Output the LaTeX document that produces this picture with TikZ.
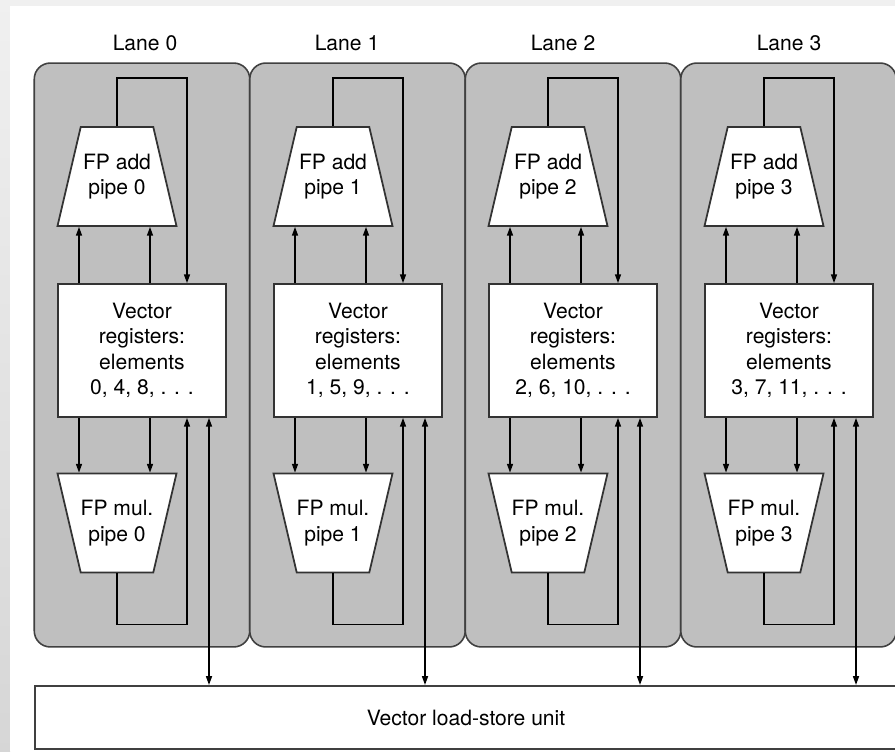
\documentclass[tikz,border=0pt]{standalone}
\usepackage{fontspec}
\setmainfont{TeX Gyre Heros}
\usetikzlibrary{shapes.geometric,arrows.meta}

\newcommand{\pipetext}[2]{\parbox[c][1.98cm][c]{1.44cm}{\centering\makebox[0pt]{#1}\\\makebox[0pt]{#2}}}

\tikzset{
  lanebox/.style={draw=black!75, fill=gray!50, line width=0.9pt, rounded corners=0.32cm,
    minimum width=4.31cm, minimum height=11.68cm},
  regbox/.style={draw=black!80, fill=white, line width=1pt, align=center,
    minimum width=3.36cm, minimum height=2.66cm},
  addpipe/.style={draw=black!80, fill=white, line width=1pt, inner sep=0pt,
    trapezium, trapezium angle=76.8, trapezium stretches body=true,
    minimum width=2.38cm, minimum height=1.98cm},
  mulpipe/.style={addpipe, trapezium angle=103.2},
  arr/.style={line width=0.85pt, -{Triangle[length=5pt,width=3.4pt]}},
  arrboth/.style={line width=0.85pt, {Triangle[length=5pt,width=3.4pt]}-{Triangle[length=5pt,width=3.4pt]}},
  every node/.append style={font=\fontsize{12}{14.5}\selectfont}
}

\begin{document}
\begin{tikzpicture}[x=0.02cm, y=-0.02cm]
  \useasboundingbox (0,0) rectangle (895,751);
  \fill [gray!12] (0,0) rectangle (895,751);
  \shade [top color=gray!12, bottom color=gray!32] (0,6) rectangle (10,751);
  \fill [white] (10,6) rectangle (895,751);

  % lanes
  \node [lanebox] (lane0) at (142,355) {};
  \node [lanebox] (lane1) at (357.5,355) {};
  \node [lanebox] (lane2) at (573,355) {};
  \node [lanebox] (lane3) at (788.5,355) {};
  \node (lab0) at (145,43) {Lane 0};
  \node (lab1) at (347,43) {Lane 1};
  \node (lab2) at (563,43) {Lane 2};
  \node (lab3) at (789,43) {Lane 3};
  \node [draw=black!75, line width=1.2pt, fill=white, minimum width=17.24cm, minimum height=1.26cm] (lsu) at (466,717.5) {Vector load-store unit};

  % lane 0
  \node [addpipe] (add0) at (117,176.5) {\pipetext{FP add}{pipe 0}};
  \node [regbox] (reg0) at (142,350.5) {Vector\\registers:\\elements\\0, 4, 8, . . .};
  \node [mulpipe] (mul0) at (117,523) {\pipetext{FP mul.}{pipe 0}};
  \draw [arr] (add0.north) -- ++(0,-48) -| (reg0.north -| 187,0);
  \draw [arr] (reg0.north -| 79,0) -- (add0.south -| 79,0);
  \draw [arr] (reg0.north -| 150,0) -- (add0.south -| 150,0);
  \draw [arr] (reg0.south -| 79,0) -- (mul0.north -| 79,0);
  \draw [arr] (reg0.south -| 150,0) -- (mul0.north -| 150,0);
  \draw [arr] (mul0.south) -- ++(0,51) -| (reg0.south -| 187,0);
  \draw [arrboth] (reg0.south -| 209,0) -- (lsu.north -| 209,0);

  % lane 1
  \node [addpipe] (add1) at (333,176.5) {\pipetext{FP add}{pipe 1}};
  \node [regbox] (reg1) at (358,350.5) {Vector\\registers:\\elements\\1, 5, 9, . . .};
  \node [mulpipe] (mul1) at (333,523) {\pipetext{FP mul.}{pipe 1}};
  \draw [arr] (add1.north) -- ++(0,-48) -| (reg1.north -| 403,0);
  \draw [arr] (reg1.north -| 295,0) -- (add1.south -| 295,0);
  \draw [arr] (reg1.north -| 366,0) -- (add1.south -| 366,0);
  \draw [arr] (reg1.south -| 295,0) -- (mul1.north -| 295,0);
  \draw [arr] (reg1.south -| 366,0) -- (mul1.north -| 366,0);
  \draw [arr] (mul1.south) -- ++(0,51) -| (reg1.south -| 403,0);
  \draw [arrboth] (reg1.south -| 425,0) -- (lsu.north -| 425,0);

  % lane 2
  \node [addpipe] (add2) at (548,176.5) {\pipetext{FP add}{pipe 2}};
  \node [regbox] (reg2) at (573,350.5) {Vector\\registers:\\elements\\2, 6, 10, . . .};
  \node [mulpipe] (mul2) at (548,523) {\pipetext{FP mul.}{pipe 2}};
  \draw [arr] (add2.north) -- ++(0,-48) -| (reg2.north -| 618,0);
  \draw [arr] (reg2.north -| 510,0) -- (add2.south -| 510,0);
  \draw [arr] (reg2.north -| 581,0) -- (add2.south -| 581,0);
  \draw [arr] (reg2.south -| 510,0) -- (mul2.north -| 510,0);
  \draw [arr] (reg2.south -| 581,0) -- (mul2.north -| 581,0);
  \draw [arr] (mul2.south) -- ++(0,51) -| (reg2.south -| 618,0);
  \draw [arrboth] (reg2.south -| 640,0) -- (lsu.north -| 640,0);

  % lane 3
  \node [addpipe] (add3) at (764,176.5) {\pipetext{FP add}{pipe 3}};
  \node [regbox] (reg3) at (789,350.5) {Vector\\registers:\\elements\\3, 7, 11, . . .};
  \node [mulpipe] (mul3) at (764,523) {\pipetext{FP mul.}{pipe 3}};
  \draw [arr] (add3.north) -- ++(0,-48) -| (reg3.north -| 834,0);
  \draw [arr] (reg3.north -| 726,0) -- (add3.south -| 726,0);
  \draw [arr] (reg3.north -| 797,0) -- (add3.south -| 797,0);
  \draw [arr] (reg3.south -| 726,0) -- (mul3.north -| 726,0);
  \draw [arr] (reg3.south -| 797,0) -- (mul3.north -| 797,0);
  \draw [arr] (mul3.south) -- ++(0,51) -| (reg3.south -| 834,0);
  \draw [arrboth] (reg3.south -| 856,0) -- (lsu.north -| 856,0);
\end{tikzpicture}
\end{document}
